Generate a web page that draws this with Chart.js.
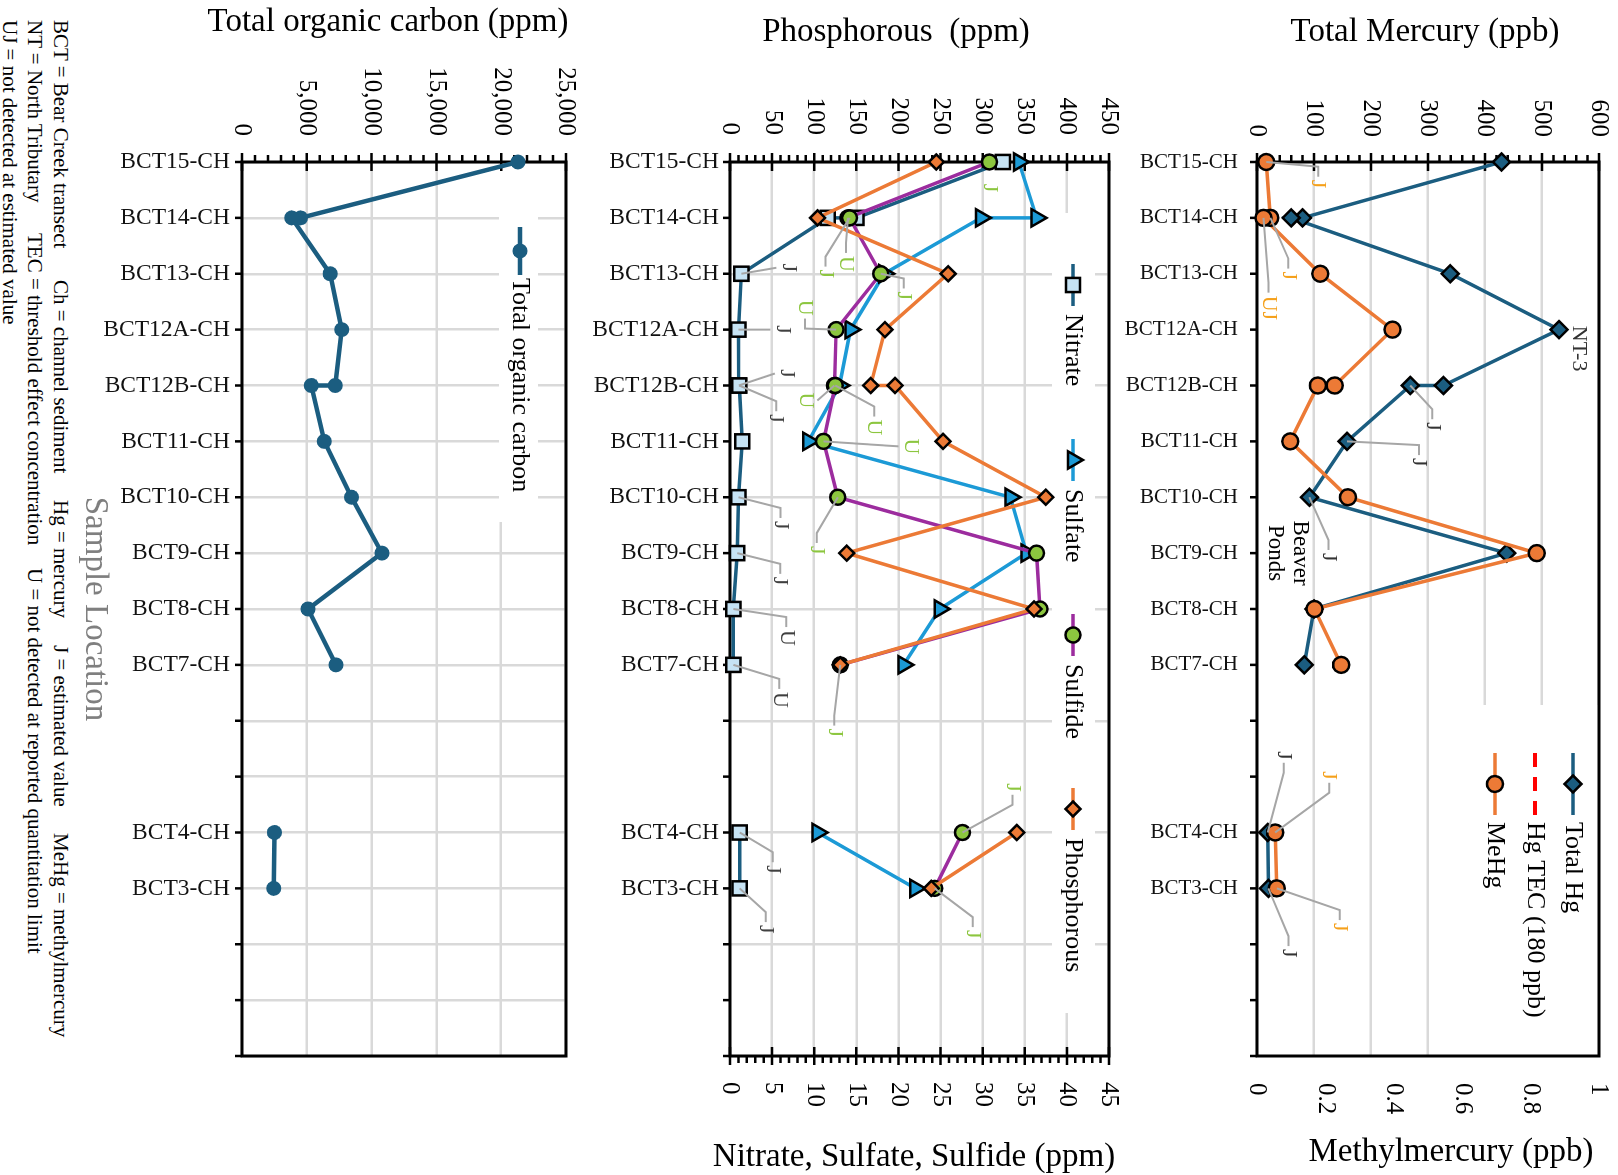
<!DOCTYPE html>
<html lang="en">
<head>
<meta charset="utf-8">
<title>Bear Creek channel sediment</title>
<script src="https://cdn.jsdelivr.net/npm/chart.js@4.4.1/dist/chart.umd.min.js"></script>
<style>
html, body { margin: 0; padding: 0; overflow: hidden; background: #fff; }
body { width: 1618px; height: 1175px; position: relative; }
/* the figure is laid out upright and turned a quarter clockwise */
#sheet { position: absolute; left: 0; top: 0; width: 1175px; height: 1618px;
  transform-origin: 0 0; transform: translate(1618px, 0) rotate(90deg);
  font-family: "Liberation Serif", "Times New Roman", serif; }
#sheet canvas { position: absolute; left: 0; }
.key { position: absolute; font-size: 21px; line-height: 25px; white-space: nowrap; color: #000; }
</style>
</head>
<body>
<div id="sheet">
  <canvas id="hgChart" width="1175" height="500" style="top:0"></canvas>
  <canvas id="nutrientChart" width="1175" height="550" style="top:480px"></canvas>
  <canvas id="tocChart" width="1175" height="515" style="top:1030px"></canvas>
  <div class="key" style="left:20px;top:1545px">BCT = Bear Creek transect</div>
  <div class="key" style="left:280px;top:1545px">Ch = channel sediment</div>
  <div class="key" style="left:500px;top:1545px">Hg = mercury</div>
  <div class="key" style="left:645px;top:1545px">J = estimated value</div>
  <div class="key" style="left:833px;top:1545px">MeHg = methylmercury</div>
  <div class="key" style="left:20px;top:1571px">NT = North Tributary</div>
  <div class="key" style="left:233px;top:1571px">TEC = threshold effect concentration</div>
  <div class="key" style="left:568px;top:1571px">U = not detected at reported quantitation limit</div>
  <div class="key" style="left:20px;top:1596px">UJ = not detected at estimated value</div>
</div>
<script>
const FONT = '"Liberation Serif", "Times New Roman", serif';
Chart.defaults.font.family = FONT;
Chart.defaults.color = '#000';

const sites = ['BCT15-CH', 'BCT14-CH', 'BCT13-CH', 'BCT12A-CH', 'BCT12B-CH', 'BCT11-CH',
  'BCT10-CH', 'BCT9-CH', 'BCT8-CH', 'BCT7-CH', '', '', 'BCT4-CH', 'BCT3-CH', '', '', ''];

// slot of each sample on the location axis; field duplicates share a slot
const hgAt = [0, 1, 1, 2, 3, 4, 4, 5, 6, 7, 8, 9, 12, 13];
const totalHg = [429, 80, 60, 339, 530, 327, 269, 158, 92, 438, 100, 83, 19, 20];
const meHg = [0.027, 0.039, 0.019, 0.185, 0.396, 0.227, 0.178, 0.097, 0.266, 0.818, 0.168, 0.246, 0.053, 0.058];
const tecAt = [0, 13];
const hgTec = [180, 180];

const nitrateAt = [0, 1, 1, 2, 3, 4, 4, 5, 6, 7, 8, 9, 12, 13];
const nitrate = [32.4, 15.0, 11.6, 1.35, 1.0, 1.05, 1.1, 1.45, 1.0, 0.85, 0.4, 0.4, 1.15, 1.15];
const sulfateAt = [0, 1, 1, 2, 3, 4, 5, 6, 7, 8, 9, 12, 13];
const sulfate = [34.3, 36.4, 29.8, 18.3, 14.3, 13.0, 9.3, 33.3, 35.2, 24.9, 20.6, 10.4, 22.0];
const sulfideAt = [0, 1, 1, 2, 3, 4, 4, 5, 6, 7, 8, 9, 12, 13];
const sulfide = [30.8, 14.0, 14.2, 17.9, 12.6, 12.4, 12.5, 11.1, 12.8, 36.4, 36.8, 13.1, 27.6, 24.3];
const phosAt = [0, 1, 2, 3, 4, 4, 5, 6, 7, 8, 9, 12, 13];
const phosphorous = [245, 104, 259, 184, 167, 196, 253, 375, 138.5, 361, 131, 340.5, 239];

const tocAt = [0, 1, 1, 2, 3, 4, 4, 5, 6, 7, 8, 9, 12, 13];
const toc = [21300, 4520, 3840, 6800, 7700, 7200, 5350, 6350, 8450, 10800, 5100, 7250, 2500, 2450];

// data qualifiers: [series, sample, flag]
const hgFlags = [
  ['meHg', 0, 'J'], ['meHg', 1, 'J'], ['meHg', 2, 'UJ'],
  ['totalHg', 6, 'J'], ['totalHg', 7, 'J'], ['totalHg', 8, 'J'],
  ['totalHg', 12, 'J'], ['meHg', 12, 'J'], ['meHg', 13, 'J'], ['totalHg', 13, 'J'],
  ['totalHg', 4, 'NT-3']
];
const nutrientFlags = [
  ['sulfide', 0, 'J'], ['nitrate', 3, 'J'], ['nitrate', 4, 'J'],
  ['sulfide', 1, 'U'], ['sulfide', 2, 'J'], ['sulfide', 3, 'J'], ['sulfide', 4, 'U'],
  ['nitrate', 5, 'J'], ['nitrate', 6, 'J'], ['sulfide', 5, 'U'], ['sulfide', 6, 'U'],
  ['sulfide', 7, 'U'], ['nitrate', 8, 'J'], ['sulfide', 8, 'J'], ['nitrate', 9, 'J'],
  ['nitrate', 10, 'U'], ['nitrate', 11, 'U'], ['sulfide', 11, 'J'], ['sulfide', 12, 'J'],
  ['nitrate', 12, 'J'], ['nitrate', 13, 'J'], ['sulfide', 13, 'J']
];

// label offsets from their markers (px, upright layout)
const hgFlagPos = [[22, -52], [58, -18], [90, -5], [41, -22], [21, -72], [60, -19],
  [-77, -16], [-57, -54], [39, -63], [65, -20], [19, -20]];
const nutrientFlagPos = [[26, 0], [-6, -47], [0, -44], [46, 2], [56, 24], [22, -23], [-22, 31],
  [-12, -48], [33, -37], [15, 29], [42, -39], [5, -87], [28, -42], [53, 21], [28, -43],
  [29, -53], [35, -46], [68, 6], [-45, -50], [37, -33], [41, -26], [46, -38]];

const TEAL = '#1b5d80', ORANGE = '#ec7a36', BLUE = '#1c9ad6', PURPLE = '#9c2c9e',
  GREEN = '#8cc63f', PALE = '#c6e3f4', GRID = '#d9d9d9';

const hgSeries = {
  totalHg: { at: hgAt, vals: totalHg, axis: 'y', color: '#333' },
  meHg: { at: hgAt, vals: meHg, axis: 'y1', color: '#f5a01a' }
};
const nutrientSeries = {
  nitrate: { at: nitrateAt, vals: nitrate, axis: 'y1', color: '#404040' },
  sulfide: { at: sulfideAt, vals: sulfide, axis: 'y1', color: '#8cc63f' }
};

// {x,y} points, with a break wherever empty location slots are skipped
function points(at, vals) {
  const pts = [];
  at.forEach((x, i) => {
    if (i > 0 && x - at[i - 1] > 1) pts.push({ x: x - 1, y: null });
    pts.push({ x, y: vals[i] });
  });
  return pts;
}

function line(label, axis, at, vals, color, style, fill, r, extra) {
  return Object.assign({
    label, yAxisID: axis, data: points(at, vals),
    borderColor: color, backgroundColor: fill, borderWidth: 3.5,
    pointStyle: style, pointRadius: r, pointHoverRadius: r,
    pointBackgroundColor: fill, pointBorderColor: '#000', pointBorderWidth: 2.5,
    clip: false
  }, extra || {});
}

function noPad(s) {
  s.paddingTop = 0; s.paddingBottom = 0; s.paddingLeft = 0; s.paddingRight = 0;
}

function locationAxis(height, pad, size, every, title) {
  return {
    type: 'linear', position: 'bottom', min: 0, max: 16,
    afterFit: s => { s.height = height; noPad(s); },
    ticks: {
      stepSize: 1, autoSkip: false, maxTicksLimit: 100, minRotation: 90, maxRotation: 90,
      padding: pad, font: { size }, color: '#111', callback: v => sites[v] || ''
    },
    grid: {
      display: every > 0, drawTicks: false, lineWidth: 2.5,
      color: c => (every && c.tick && c.tick.value % every === 0) ? GRID : 'rgba(0,0,0,0)'
    },
    border: { display: false },
    title: title
      ? { display: true, text: title, color: '#7f7f7f', font: { size: 33 }, padding: { top: 0, bottom: 2 } }
      : { display: false }
  };
}

function valueAxis(pos, min, max, step, pad, grid, fmt) {
  return {
    type: 'linear', position: pos, min, max,
    afterFit: s => { s.width = pos === 'left' ? 162 : 119; noPad(s); },
    ticks: {
      stepSize: step, padding: pad, font: { size: 25 }, color: '#000',
      callback: fmt || (v => String(+v.toFixed(2)))
    },
    grid: { display: grid, drawTicks: false, color: GRID, lineWidth: 2.5 },
    border: { display: false }
  };
}

function marker(ctx, style, x, y, r, bw) {
  ctx.beginPath();
  if (style === 'circle') ctx.arc(x, y, r, 0, Math.PI * 2);
  else if (style === 'rect') { const h = r * Math.SQRT1_2; ctx.rect(x - h, y - h, 2 * h, 2 * h); }
  else if (style === 'rectRot') {
    ctx.moveTo(x - r, y); ctx.lineTo(x, y - r); ctx.lineTo(x + r, y); ctx.lineTo(x, y + r); ctx.closePath();
  } else if (style === 'triangle') {
    for (let k = 0; k < 3; k++) {
      const a = k * 2 * Math.PI / 3;
      ctx[k ? 'lineTo' : 'moveTo'](x + Math.sin(a) * r, y - Math.cos(a) * r);
    }
    ctx.closePath();
  }
  ctx.fill();
  if (bw) ctx.stroke();
}

// frame, tick marks, in-plot legend, axis titles and qualifier labels
function decor(cfg) {
  return {
    id: 'decor',
    beforeDatasetsDraw(chart) {
      const { ctx, chartArea: a, scales } = chart;
      ctx.save();
      const L = cfg.legend;
      if (L) {
        ctx.fillStyle = '#fff';
        ctx.fillRect(L.box[0], L.box[1], L.box[2] - L.box[0], L.box[3] - L.box[1]);
        L.items.forEach(([ds, x, y]) => {
          const d = chart.data.datasets[ds];
          ctx.strokeStyle = d.borderColor; ctx.lineWidth = d.borderWidth;
          ctx.setLineDash(d.borderDash || []);
          ctx.beginPath(); ctx.moveTo(x - L.half, y); ctx.lineTo(x + L.half, y); ctx.stroke();
          ctx.setLineDash([]);
          if (d.pointRadius) {
            ctx.fillStyle = d.pointBackgroundColor; ctx.strokeStyle = d.pointBorderColor;
            ctx.lineWidth = d.pointBorderWidth;
            marker(ctx, d.pointStyle, x, y, d.pointRadius, d.pointBorderWidth);
          }
          ctx.fillStyle = '#000'; ctx.font = '26px ' + FONT;
          ctx.textAlign = 'left'; ctx.textBaseline = 'middle';
          ctx.fillText(d.label, x + L.text, y);
        });
      }
      ctx.strokeStyle = '#000'; ctx.lineWidth = 3;
      ctx.strokeRect(a.left, a.top, a.width, a.height);
      ctx.lineWidth = 2.5;
      ctx.beginPath();
      cfg.marks.forEach(m => {
        const s = scales[m.axis];
        if (m.axis === 'x') {
          for (let v = s.min; v <= s.max; v++) {
            const x = s.getPixelForValue(v);
            ctx.moveTo(x, a.bottom); ctx.lineTo(x, a.bottom + 7);
          }
          return;
        }
        const n = Math.round((s.max - s.min) / m.minor), per = Math.round(m.major / m.minor);
        const edge = m.side === 'left' ? a.left : a.right, out = m.side === 'left' ? -1 : 1;
        for (let k = 0; k <= n; k++) {
          const y = s.getPixelForValue(s.min + k * m.minor);
          if (k % per === 0) { ctx.moveTo(edge - 9, y); ctx.lineTo(edge + 9, y); }
          else { ctx.moveTo(edge, y); ctx.lineTo(edge + out * 7, y); }
        }
      });
      ctx.stroke();
      ctx.restore();
    },
    afterDatasetsDraw(chart) {
      const { ctx, scales } = chart;
      ctx.save();
      ctx.textAlign = 'center'; ctx.textBaseline = 'middle';
      (cfg.titles || []).forEach(t => {
        ctx.save();
        ctx.font = t.size + 'px ' + FONT; ctx.fillStyle = '#000';
        ctx.translate(t.x, t.y); ctx.rotate(-Math.PI / 2);
        ctx.fillText(t.text, 0, 0);
        ctx.restore();
      });
      ctx.font = '22px ' + FONT;
      (cfg.flags || []).forEach(([key, i, text], n) => {
        const s = cfg.series[key];
        const px = scales.x.getPixelForValue(s.at[i]);
        const py = scales[s.axis].getPixelForValue(s.vals[i]);
        const [dx, dy] = cfg.flagPos[n];
        const lx = px + dx, ly = py + dy, w = ctx.measureText(text).width;
        if (Math.hypot(dx, dy) > 30) {
          ctx.strokeStyle = '#a6a6a6'; ctx.lineWidth = 2;
          ctx.beginPath(); ctx.moveTo(px, py);
          if (Math.abs(dx) > w / 2 + 8) {
            const side = dx > 0 ? -1 : 1, ex = lx + side * (w / 2 + 3);
            ctx.lineTo(ex + side * 10, ly); ctx.lineTo(ex, ly);
          } else {
            ctx.lineTo(lx, ly + (dy > 0 ? -12 : 12));
          }
          ctx.stroke();
        }
        ctx.fillStyle = s.color;
        ctx.fillText(text, lx, ly);
      });
      if (cfg.note) {
        const nt = cfg.note;
        const x = scales.x.getPixelForValue(nt.at), y = scales[nt.axis].getPixelForValue(nt.value);
        ctx.font = '23px ' + FONT; ctx.fillStyle = '#000';
        nt.lines.forEach((t, k) => ctx.fillText(t, x, y + (k - (nt.lines.length - 1) / 2) * 25));
      }
      ctx.restore();
    }
  };
}

const base = {
  responsive: false, animation: false, devicePixelRatio: 1, events: [],
  plugins: { legend: { display: false }, tooltip: { enabled: false } }
};

// mercury panel
new Chart(document.getElementById('hgChart'), {
  type: 'line',
  data: {
    datasets: [
      line('MeHg', 'y1', hgAt, meHg, ORANGE, 'circle', ORANGE, 8),
      line('Total Hg', 'y', hgAt, totalHg, TEAL, 'rectRot', TEAL, 8.5),
      line('Hg TEC (180 ppb)', 'y', tecAt, hgTec, '#ff0000', false, '#ff0000', 0,
        { borderWidth: 4, borderDash: [14, 10] })
    ]
  },
  options: Object.assign({}, base, {
    layout: { autoPadding: false, padding: { top: 19, left: 0, right: 0, bottom: 0 } },
    scales: {
      x: locationAxis(139, 19, 21, 0),
      y: valueAxis('left', 0, 600, 100, 25, true),
      y1: valueAxis('right', 0, 1, 0.2, 27, false)
    }
  }),
  plugins: [decor({
    legend: { box: [705, 19, 1056, 178], half: 31, text: 38,
      items: [[1, 784, 45], [2, 784, 83], [0, 784, 123]] },
    marks: [{ axis: 'y', side: 'left', major: 100, minor: 20 }, { axis: 'x' }],
    titles: [
      { text: 'Total Mercury (ppb)', x: 32, y: 193, size: 33 },
      { text: 'Methylmercury (ppb)', x: 1152, y: 167, size: 33 }
    ],
    series: hgSeries, flags: hgFlags, flagPos: hgFlagPos,
    note: { at: 7, axis: 'y', value: 54, lines: ['Beaver', 'Ponds'] }
  })]
});

// phosphorous and nitrogen/sulfur panel
new Chart(document.getElementById('nutrientChart'), {
  type: 'line',
  data: {
    datasets: [
      line('Phosphorous', 'y', phosAt, phosphorous, ORANGE, 'rectRot', ORANGE, 7.5),
      line('Sulfide', 'y1', sulfideAt, sulfide, PURPLE, 'circle', GREEN, 7.5),
      line('Sulfate', 'y1', sulfateAt, sulfate, BLUE, 'triangle', BLUE, 10),
      line('Nitrate', 'y1', nitrateAt, nitrate, TEAL, 'rect', PALE, 10)
    ]
  },
  options: Object.assign({}, base, {
    layout: { autoPadding: false, padding: { top: 29, left: 0, right: 0, bottom: 0 } },
    scales: {
      x: locationAxis(142, 11, 23.5, 2),
      y: valueAxis('left', 0, 450, 50, 27, true),
      y1: valueAxis('right', 0, 45, 5, 26, false)
    }
  }),
  plugins: [decor({
    legend: { box: [213, 43, 1013, 86], half: 21, text: 29,
      items: [[3, 285, 65], [2, 460, 65], [1, 635, 65], [0, 809, 65]] },
    marks: [{ axis: 'y', side: 'left', major: 50, minor: 10 },
      { axis: 'y1', side: 'right', major: 5, minor: 1 }, { axis: 'x' }],
    titles: [
      { text: 'Phosphorous  (ppm)', x: 32, y: 242, size: 33 },
      { text: 'Nitrate, Sulfate, Sulfide (ppm)', x: 1157, y: 224, size: 33 }
    ],
    series: nutrientSeries, flags: nutrientFlags, flagPos: nutrientFlagPos
  })]
});

// total organic carbon panel
new Chart(document.getElementById('tocChart'), {
  type: 'line',
  data: {
    datasets: [
      line('Total organic carbon', 'y', tocAt, toc, TEAL, 'circle', TEAL, 7.5,
        { borderWidth: 4.5, pointBorderWidth: 0, pointBorderColor: TEAL })
    ]
  },
  options: Object.assign({}, base, {
    layout: { autoPadding: false, padding: { top: 22, left: 0, right: 119, bottom: 0 } },
    scales: {
      x: locationAxis(169, 12, 23.5, 1, 'Sample Location'),
      y: valueAxis('left', 0, 25000, 5000, 26, true, v => v.toLocaleString('en-US'))
    }
  }),
  plugins: [decor({
    legend: { box: [166, 50, 522, 89], half: 24, text: 27, items: [[0, 251, 68]] },
    marks: [{ axis: 'y', side: 'left', major: 5000, minor: 1000 }, { axis: 'x' }],
    titles: [{ text: 'Total organic carbon (ppm)', x: 22, y: 200, size: 33 }]
  })]
});
</script>
</body>
</html>
